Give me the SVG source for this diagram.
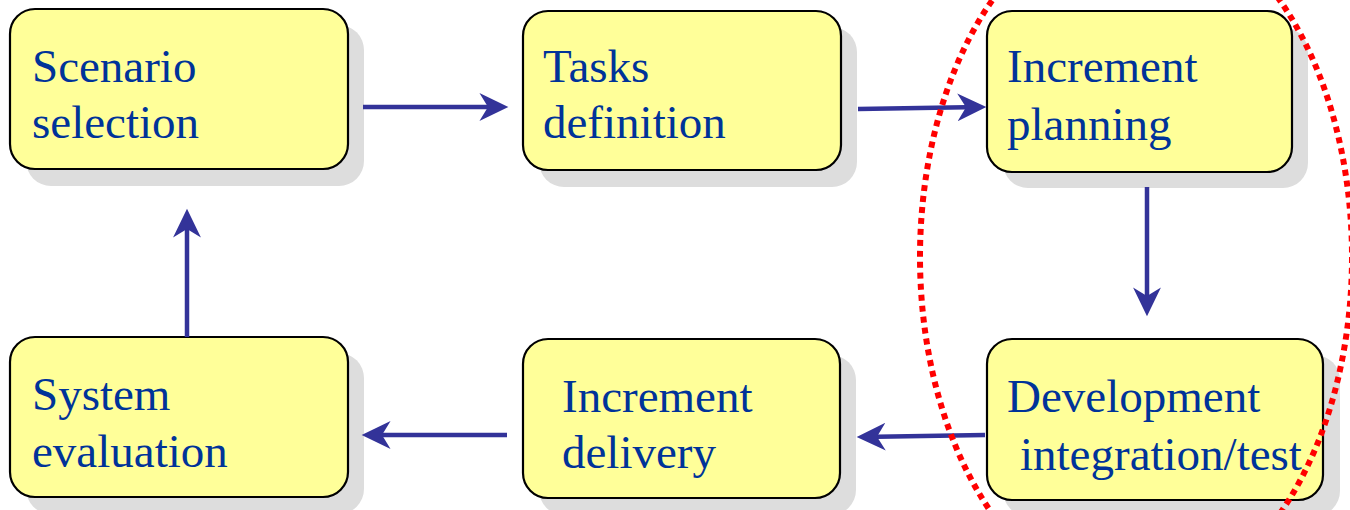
<svg xmlns="http://www.w3.org/2000/svg" width="1350" height="510" viewBox="0 0 1350 510">
  <defs>
    <style>
      .shadow { fill: #dddddd; }
      .box { fill: #ffff99; stroke: #000000; stroke-width: 2.2; }
      .label { font-family: "Liberation Serif", "Times New Roman", "DejaVu Serif", serif; font-size: 47px; fill: #003399; }
      .flow { stroke: #333399; stroke-width: 4.5; fill: none; marker-end: url(#head); }
      .focus { fill: none; stroke: #ff0000; stroke-width: 6; stroke-dasharray: 6 5; }
    </style>
    <marker id="head" markerUnits="userSpaceOnUse" markerWidth="30" markerHeight="30" viewBox="0 -14 28 28" refX="8" refY="0" orient="auto">
      <path d="M0,-13 L27,0 L0,13 L8,0 Z" fill="#333399"/>
    </marker>
  </defs>

  <rect width="1350" height="510" fill="#ffffff"/>

  <g id="scenario-selection">
    <rect class="shadow" x="26" y="25" width="338" height="161" rx="25"/>
    <rect class="box" x="10" y="9" width="338" height="160" rx="25"/>
    <text class="label" x="32" y="82" font-family="Liberation Serif, serif">Scenario</text>
    <text class="label" x="32" y="138" font-family="Liberation Serif, serif">selection</text>
  </g>

  <g id="tasks-definition">
    <rect class="shadow" x="539" y="27" width="318" height="160" rx="25"/>
    <rect class="box" x="523" y="11" width="318" height="159" rx="25"/>
    <text class="label" x="543" y="82" font-family="Liberation Serif, serif">Tasks</text>
    <text class="label" x="543" y="138" font-family="Liberation Serif, serif">definition</text>
  </g>

  <g id="increment-planning">
    <rect class="shadow" x="1003" y="27" width="305" height="161" rx="25"/>
    <rect class="box" x="987" y="11" width="305" height="161" rx="25"/>
    <text class="label" x="1007" y="82" font-family="Liberation Serif, serif">Increment</text>
    <text class="label" x="1007" y="140" font-family="Liberation Serif, serif">planning</text>
  </g>

  <g id="development-integration-test">
    <rect class="shadow" x="1003" y="355" width="337" height="161" rx="25"/>
    <rect class="box" x="987" y="339" width="336" height="161" rx="25"/>
    <text class="label" x="1007" y="412" font-family="Liberation Serif, serif">Development</text>
    <text class="label" x="1020" y="470" font-family="Liberation Serif, serif">integration/test</text>
  </g>

  <g id="increment-delivery">
    <rect class="shadow" x="539" y="355" width="317" height="160" rx="25"/>
    <rect class="box" x="523" y="339" width="317" height="159" rx="25"/>
    <text class="label" x="562" y="412" font-family="Liberation Serif, serif">Increment</text>
    <text class="label" x="562" y="468" font-family="Liberation Serif, serif">delivery</text>
  </g>

  <g id="system-evaluation">
    <rect class="shadow" x="26" y="353" width="338" height="161" rx="25"/>
    <rect class="box" x="10" y="337" width="338" height="160" rx="25"/>
    <text class="label" x="32" y="410" font-family="Liberation Serif, serif">System</text>
    <text class="label" x="32" y="467" font-family="Liberation Serif, serif">evaluation</text>
  </g>

  <g id="connectors">
    <line class="flow" x1="363" y1="107" x2="488" y2="107"/>
    <line class="flow" x1="858" y1="109" x2="966" y2="107.3"/>
    <line class="flow" x1="1147" y1="187" x2="1147" y2="296"/>
    <line class="flow" x1="985" y1="435" x2="877" y2="436.7"/>
    <line class="flow" x1="507" y1="435" x2="382" y2="435"/>
    <line class="flow" x1="187" y1="337" x2="187" y2="229"/>
  </g>

  <g id="increment-loop">
    <ellipse class="focus" cx="1136" cy="257" rx="216" ry="344"/>
  </g>
</svg>
